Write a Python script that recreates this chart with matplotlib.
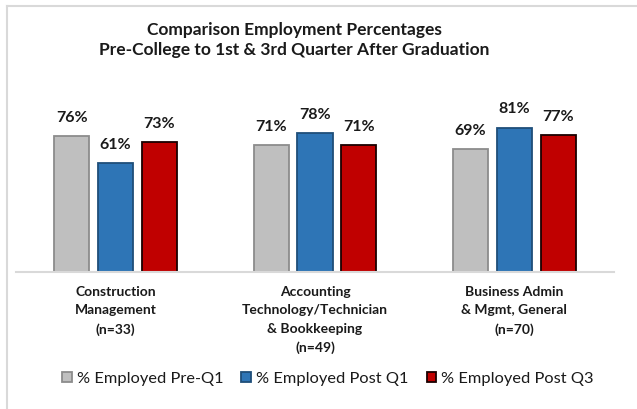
import matplotlib.pyplot as plt
import numpy as np
from matplotlib.lines import Line2D

plt.rcParams['font.family'] = ['Lato', 'DejaVu Sans']

categories = ['Construction\nManagement\n(n=33)',
              'Accounting\nTechnology/Technician\n& Bookkeeping\n(n=49)',
              'Business Admin\n& Mgmt, General\n(n=70)']
series_names = ['% Employed Pre-Q1', '% Employed Post Q1', '% Employed Post Q3']
pre_q1 = [76, 71, 69]
post_q1 = [61, 78, 81]
post_q3 = [73, 71, 77]

fills = ['#bfbfbf', '#2e75b6', '#c00000']
edges = ['#8c8c8c', '#1f4e79', '#1a0000']

W, H = 637, 409
fig = plt.figure(figsize=(W / 100, H / 100), dpi=100)

# axes placed in pixel terms: x 16..614, baseline at y=271.7, 100% = 178 px
ax_left, ax_right = 16, 614
base_y = 271.7
top_y = base_y - 178
ax = fig.add_axes([ax_left / W, 1 - base_y / H, (ax_right - ax_left) / W, (base_y - top_y) / H])

x = np.arange(len(categories))
off = 0.22
bw = 0.176
for i, vals in enumerate([pre_q1, post_q1, post_q3]):
    bars = ax.bar(x + (i - 1) * off, vals, bw, color=fills[i], edgecolor=edges[i],
                  linewidth=1.3, label=series_names[i])
    for b, v in zip(bars, vals):
        ax.annotate(f'{v}%', (b.get_x() + b.get_width() / 2, v), xytext=(0, 8),
                    textcoords='offset points', ha='center', va='bottom',
                    fontsize=11.5, fontweight='bold', color='#1a1a1a')

ax.set_xlim(-0.5, 2.5)
ax.set_ylim(0, 100)
for s in ['top', 'right', 'left']:
    ax.spines[s].set_visible(False)
ax.spines['bottom'].set_color('#d9d9d9')
ax.spines['bottom'].set_linewidth(1.5)
ax.set_yticks([])
ax.set_xticks(x)
ax.set_xticklabels(categories, fontsize=10, fontweight='bold', color='#1a1a1a',
                   linespacing=1.65, va='top')
ax.tick_params(axis='x', length=0, pad=10)

fig.text(294 / W, 1 - 40 / H, 'Comparison Employment Percentages\nPre-College to 1st & 3rd Quarter After Graduation',
         ha='center', va='center', fontsize=12.5, fontweight='bold', color='#1a1a1a',
         linespacing=1.25)

fig.legend(loc='center', bbox_to_anchor=(328 / W, 1 - 379 / H), ncol=3, frameon=False,
           fontsize=11.8, handlelength=0.6, handleheight=0.6, handletextpad=0.3,
           columnspacing=1.1, labelcolor='#1a1a1a')

# chart frame (only left and top edges visible in the crop)
fig.add_artist(Line2D([7 / W, 7 / W], [0, 1 - 6 / H], color='#d9d9d9', linewidth=1.5))
fig.add_artist(Line2D([7 / W, 1], [1 - 6 / H, 1 - 6 / H], color='#d9d9d9', linewidth=1.5))

fig.savefig('out.png', dpi=100)
